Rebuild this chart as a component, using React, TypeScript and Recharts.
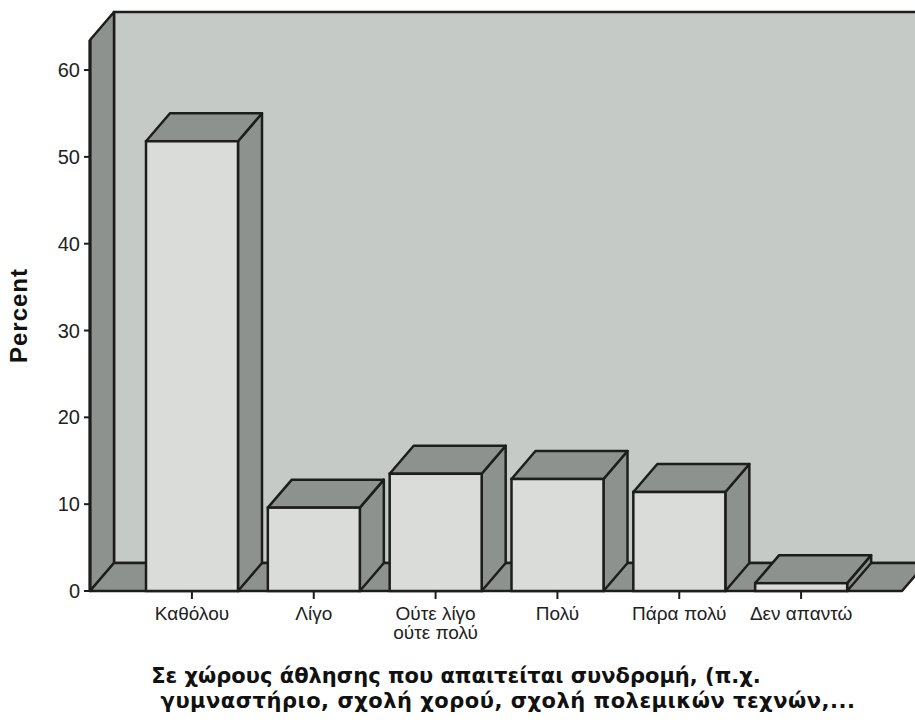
import { BarChart, Bar, XAxis, YAxis, ReferenceArea } from "recharts";

const categories = [
  "Καθόλου",
  "Λίγο",
  "Ούτε λίγο\nούτε πολύ",
  "Πολύ",
  "Πάρα πολύ",
  "Δεν απαντώ",
];
const percents = [51.8, 9.6, 13.5, 12.9, 11.4, 0.9];
const yTicks = [0, 10, 20, 30, 40, 50, 60];
const yMax = 63.46;

const titleLines = [
  "Σε χώρους άθλησης που απαιτείται συνδρομή, (π.χ.",
  "γυμναστήριο, σχολή χορού, σχολή πολεμικών τεχνών,...",
];

const data = categories.map((name, i) => ({ name, value: percents[i] }));

// depth of the 3D effect
const DX = 24;
const DY = 28;
const PAD_L = 41;
const PAD_R = 40;
const INK = "#1c1e1c";
const DARK = "#8e928e";
const FRONT = "#dadcda";
const WALL = "#c6cac6";

function Walls(props: any) {
  const { x, y, width, height } = props;
  // reference area spans the padded band range, walls span the whole floor
  const L = x - PAD_L;
  const R = x + width + PAD_R;
  const T = y;
  const B = y + height;
  return (
    <g>
      <rect
        x={L + DX}
        y={T - DY}
        width={R - L + 40}
        height={height}
        fill={WALL}
        stroke={INK}
        strokeWidth={2.5}
      />
      <polygon
        points={`${L},${T} ${L + DX},${T - DY} ${L + DX},${B - DY} ${L},${B}`}
        fill={DARK}
        stroke={INK}
        strokeWidth={2.5}
        strokeLinejoin="round"
      />
      <polygon
        points={`${L},${B} ${L + DX},${B - DY} ${R + DX},${B - DY} ${R},${B}`}
        fill={DARK}
        stroke={INK}
        strokeWidth={2.5}
        strokeLinejoin="round"
      />
    </g>
  );
}

function Box3D(props: any) {
  const { x, y, width, height } = props;
  const r = x + width;
  const b = y + height;
  return (
    <g>
      <polygon
        points={`${r},${y} ${r + DX},${y - DY} ${r + DX},${b - DY} ${r},${b}`}
        fill={DARK}
        stroke={INK}
        strokeWidth={2.5}
        strokeLinejoin="round"
      />
      <polygon
        points={`${x},${y} ${x + DX},${y - DY} ${r + DX},${y - DY} ${r},${y}`}
        fill={DARK}
        stroke={INK}
        strokeWidth={2.5}
        strokeLinejoin="round"
      />
      <rect
        x={x}
        y={y}
        width={width}
        height={height}
        fill={FRONT}
        stroke={INK}
        strokeWidth={2.5}
      />
    </g>
  );
}

function CategoryTick(props: any) {
  const { x, y, payload } = props;
  const lines = String(payload.value).split("\n");
  return (
    <text
      x={x}
      y={y}
      textAnchor="middle"
      fill="#222"
      fontSize={19}
      fontFamily="'Liberation Sans', Arial, sans-serif"
    >
      {lines.map((ln, i) => (
        <tspan key={i} x={x} dy={i === 0 ? 19 : 19}>
          {ln}
        </tspan>
      ))}
    </text>
  );
}

export default function App() {
  return (
    <div style={{ position: "absolute", left: 0, top: 0, width: 915, height: 722, background: "#fff" }}>
      <BarChart
        width={915}
        height={722}
        data={data}
        margin={{ top: 40, right: 13, bottom: 0, left: 0 }}
        barCategoryGap={15}
      >
        <ReferenceArea y1={0} y2={yMax} shape={(p: any) => <Walls {...p} />} />
        <XAxis
          dataKey="name"
          height={131}
          padding={{ left: PAD_L, right: PAD_R }}
          axisLine={false}
          tickLine={{ stroke: INK, strokeWidth: 2 }}
          tickSize={8}
          tickMargin={2}
          tick={<CategoryTick />}
          interval={0}
        />
        <YAxis
          type="number"
          domain={[0, yMax]}
          ticks={yTicks}
          width={90}
          axisLine={{ stroke: INK, strokeWidth: 3 }}
          tickLine={{ stroke: INK, strokeWidth: 2 }}
          tickSize={6}
          tickMargin={4}
          tick={{ fill: "#222", fontSize: 20, fontFamily: "'Liberation Sans', Arial, sans-serif" }}
          label={{
            value: "Percent",
            angle: -90,
            position: "insideLeft",
            offset: 18,
            style: {
              textAnchor: "middle",
              fontWeight: "bold",
              fontSize: 24,
              fill: "#111",
              fontFamily: "'Liberation Sans', Arial, sans-serif",
              letterSpacing: 1,
            },
          }}
        />
        <Bar dataKey="value" shape={(p: any) => <Box3D {...p} />} isAnimationActive={false} />
      </BarChart>
      {titleLines.map((ln, i) => (
        <div
          key={i}
          style={{
            position: "absolute",
            left: (i === 0 ? 456 : 508) - 450,
            width: 900,
            top: 664 + i * 25,
            textAlign: "center",
            fontFamily: "'DejaVu Sans', Verdana, sans-serif",
            fontWeight: "bold",
            fontSize: 21,
            lineHeight: "25px",
            letterSpacing: i === 0 ? 0 : 0.5,
            color: "#111",
            whiteSpace: "nowrap",
          }}
        >
          {ln}
        </div>
      ))}
    </div>
  );
}
